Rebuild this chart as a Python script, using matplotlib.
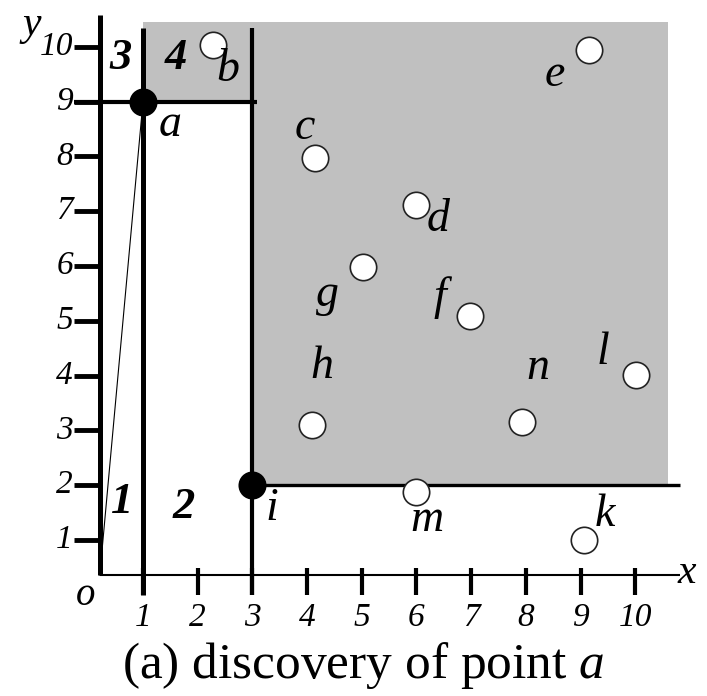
import matplotlib
matplotlib.use("Agg")
import matplotlib.pyplot as plt

plt.rcParams["font.family"] = ["Liberation Serif", "DejaVu Serif"]
plt.rcParams["mathtext.fontset"] = "custom"
plt.rcParams["mathtext.rm"] = "Liberation Serif"
plt.rcParams["mathtext.it"] = "Liberation Serif:italic"

# points of the data set
names = ["a", "b", "c", "d", "e", "f", "g", "h", "i", "k", "l", "m", "n"]
xs = [1, 2.28, 4.14, 5.99, 9.15, 6.98, 5.02, 4.09, 3, 9.06, 10.01, 5.99, 7.93]
ys = [9, 10.03, 7.97, 7.11, 9.94, 5.08, 5.98, 3.10, 2, 1.0, 4.01, 1.88, 3.15]
found = ["a", "i"]          # skyline points drawn filled

x_ticks = [1, 2, 3, 4, 5, 6, 7, 8, 9, 10]
y_ticks = [1, 2, 3, 4, 5, 6, 7, 8, 9, 10]
regions = ["1", "2", "3", "4"]

# label offsets in pixels (layout only)
label_off = {
    "a": (27, -23), "b": (15, -25), "c": (-10, 30), "d": (22, -15),
    "e": (-34, -25), "f": (-30, 19), "g": (-35, -28), "h": (10, 58),
    "i": (19, -24), "k": (21, 25), "l": (-33, 22), "m": (11, -28),
    "n": (16, 54),
}

GRAY = "#c0c0c0"
X0, Y0 = 0.21, 0.36        # where the drawn axes cross
XMAX, YMAX = 10.6, 10.45   # extent of shaded area

fig = plt.figure(figsize=(7.07, 6.96), dpi=100)
ax = fig.add_axes([0, 0, 1, 1])
ax.set_xlim(-1.614, 11.311)
ax.set_ylim(-1.847, 10.854)
ax.axis("off")

pts = dict(zip(names, zip(xs, ys)))
ax_, ay_ = pts["a"]
ix_, iy_ = pts["i"]

# dominated area of a and i
ax.fill([ax_, XMAX, XMAX, ix_, ix_, ax_], [YMAX, YMAX, iy_, iy_, ay_, ay_],
        color=GRAY, lw=0, zorder=0)

# axes
ax.plot([X0, X0], [Y0, 10.58], color="black", lw=3.6, solid_capstyle="butt", zorder=2)
ax.plot([X0, 10.82], [Y0, Y0], color="black", lw=1.5, solid_capstyle="butt", zorder=2)
for t in y_ticks:
    ax.plot([-0.26, X0], [t, t], color="black", lw=3.5, solid_capstyle="butt", zorder=2)
    ax.text(-0.28, t, str(t), ha="right", va="center", fontsize=24, style="italic")
for t in x_ticks:
    ax.plot([t, t], [0, 0.49], color="black", lw=3, solid_capstyle="butt", zorder=2)
    ax.text(t, -0.14, str(t), ha="center", va="top", fontsize=24, style="italic")

ax.text(10.95, Y0 + 0.04, "x", ha="center", va="center", fontsize=30, style="italic")
ax.text(-1.03, 10.4, "y", ha="center", va="center", fontsize=30, style="italic")
ax.text(-0.05, -0.02, "o", ha="center", va="center", fontsize=28, style="italic")

# partition lines through a and i
ax.plot([ax_, ax_], [0, 10.34], color="black", lw=3.6, solid_capstyle="butt", zorder=2)
ax.plot([ix_, ix_], [0, 10.34], color="black", lw=3, solid_capstyle="butt", zorder=2)
ax.plot([-0.26, ix_ + 0.08], [ay_, ay_], color="black", lw=3, solid_capstyle="butt", zorder=2)
ax.plot([ix_, 10.82], [iy_, iy_], color="black", lw=2.4, solid_capstyle="butt", zorder=2)
ax.plot([X0, ax_], [Y0, ay_], color="black", lw=0.8, zorder=2)

# region numbers
reg_pos = [(0.62, 1.7), (1.75, 1.6), (0.58, 9.8), (1.6, 9.8)]
for r, (rx, ry) in zip(regions, reg_pos):
    ax.text(rx, ry, r, ha="center", va="center", fontsize=32,
            style="italic", weight="bold")

# points
for n, x, y in zip(names, xs, ys):
    filled = n in found
    ax.plot(x, y, "o", ms=19, mfc="black" if filled else "white",
            mec="black" if filled else "#222222", mew=1.2, zorder=4)
    ax.annotate(n, (x, y), xytext=label_off[n], textcoords="offset pixels",
                ha="center", va="center", fontsize=33, style="italic", zorder=5)

fig.text(0.513, 0.044, "(a) discovery of point $a$", ha="center", va="center",
         fontsize=37)

fig.savefig("out.png", dpi=100, facecolor="white")
